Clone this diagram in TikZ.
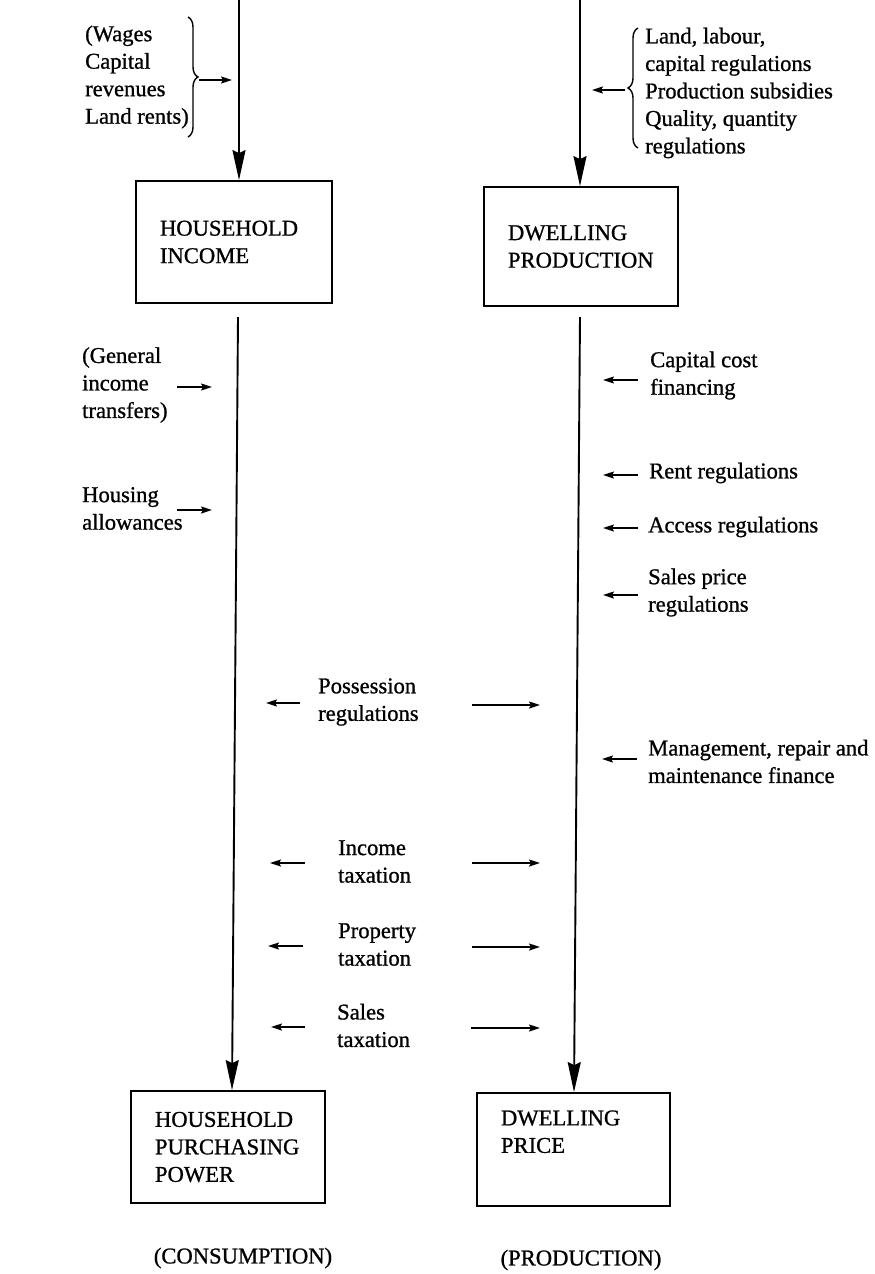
\documentclass[tikz,border=0pt]{standalone}
\usepackage{fontspec}
\setmainfont{Liberation Serif}[FakeBold=0.9]
\usetikzlibrary{arrows.meta,decorations.pathreplacing}
\begin{document}
\begin{tikzpicture}[x=1pt,y=-1pt,
  every node/.style={font=\fontsize{22.6}{27.5}\selectfont, inner sep=0pt},
  lbl/.style={anchor=west, align=left},
  boxnode/.style={draw, line width=1.8pt, inner sep=0pt, align=left},
  bigarrow/.style={line width=1.9pt, -{Stealth[length=30pt,width=13pt,inset=3pt]}},
  smallarrow/.style={line width=1.6pt, -{Stealth[length=11pt,width=7pt,inset=2pt]}},
  bracedec/.style={line width=1.4pt, decorate, decoration={brace, amplitude=10pt}}
]
\fill[white] (0,0) rectangle (875,1274);
\useasboundingbox (0,0) rectangle (875,1274);

% boxes
\node[boxnode, minimum width=196pt, minimum height=122pt, text width=148pt] (inc) at (234,242) {HOUSEHOLD\\INCOME};
\node[boxnode, minimum width=194pt, minimum height=119pt, text width=146pt] (prod) at (581,246.5) {DWELLING\\PRODUCTION};
\node[boxnode, minimum width=194pt, minimum height=112pt, text width=146pt] (pp) at (228,1147) {HOUSEHOLD\\PURCHASING\\POWER};
\node[boxnode, minimum width=193pt, minimum height=113pt, text width=145pt] (price) at (573.5,1149.5) {DWELLING\\PRICE\\\strut};

% main flow lines
\coordinate (inL) at (239,0);
\coordinate (inR) at (580,0);
\draw[bigarrow] (inL) -- (inL |- inc.north);
\draw[bigarrow] (inR) -- (inR |- prod.north);
\coordinate (l1) at (238,317);
\coordinate (l2) at (232,0);
\coordinate (r1) at (580,317);
\coordinate (r2) at (574,0);
\draw[bigarrow] (l1) -- (l2 |- pp.north);
\draw[bigarrow] (r1) -- (r2 |- price.north);

% top-left brace group
\node[lbl] (wages) at (85,77) {(Wages\\Capital\\revenues\\Land rents)};
\coordinate (bl1) at (188,17);
\coordinate (bl2) at (188,137);
\draw[bracedec] (bl1) -- (bl2);
\coordinate (aw1) at (199,80);
\coordinate (aw2) at (232,80);
\draw[smallarrow] (aw1) -- (aw2);

% top-right brace group
\node[lbl] (land) at (645,93) {Land, labour,\\capital regulations\\Production subsidies\\Quality, quantity\\regulations};
\coordinate (br1) at (638,148);
\coordinate (br2) at (638,28);
\draw[bracedec] (br1) -- (br2);
\coordinate (al1) at (625,90);
\coordinate (al2) at (592,90);
\draw[smallarrow] (al1) -- (al2);

% left side inputs
\node[lbl] (gen) at (82,385) {(General\\income\\transfers)};
\coordinate (ag1) at (177,387);
\coordinate (ag2) at (212,387);
\draw[smallarrow] (ag1) -- (ag2);
\node[lbl] (hous) at (82,508.5) {Housing\\allowances};
\coordinate (ah1) at (177,510);
\coordinate (ah2) at (212,510);
\draw[smallarrow] (ah1) -- (ah2);

% right side inputs
\node[lbl] (ccf) at (650,375.5) {Capital cost\\financing};
\coordinate (ac1) at (638,380);
\coordinate (ac2) at (603,380);
\draw[smallarrow] (ac1) -- (ac2);
\node[lbl] (rent) at (649,473) {Rent regulations};
\coordinate (ar1) at (638,475);
\coordinate (ar2) at (603,475);
\draw[smallarrow] (ar1) -- (ar2);
\node[lbl] (acc) at (648,527) {Access regulations};
\coordinate (aa1) at (638,528);
\coordinate (aa2) at (603,528);
\draw[smallarrow] (aa1) -- (aa2);
\node[lbl] (spr) at (648,592.5) {Sales price\\regulations};
\coordinate (as1) at (638,595);
\coordinate (as2) at (603,595);
\draw[smallarrow] (as1) -- (as2);
\node[lbl] (mgmt) at (648,761.5) {Management, repair and\\maintenance finance};
\coordinate (am1) at (637,759);
\coordinate (am2) at (602,759);
\draw[smallarrow] (am1) -- (am2);

% middle two-way items
\node[lbl] (poss) at (318,702) {Possession\\regulations};
\coordinate (pl1) at (300,703);
\coordinate (pl2) at (266,703);
\coordinate (pr1) at (472,705);
\coordinate (pr2) at (540,705);
\draw[smallarrow] (pl1) -- (pl2);
\draw[smallarrow] (pr1) -- (pr2);

\node[lbl] (itax) at (338,861.5) {Income\\taxation};
\coordinate (il1) at (305,863);
\coordinate (il2) at (270,863);
\coordinate (ir1) at (472,863);
\coordinate (ir2) at (540,863);
\draw[smallarrow] (il1) -- (il2);
\draw[smallarrow] (ir1) -- (ir2);

\node[lbl] (ptax) at (338,944.5) {Property\\taxation};
\coordinate (ql1) at (303,946);
\coordinate (ql2) at (268,946);
\coordinate (qr1) at (472,947);
\coordinate (qr2) at (540,947);
\draw[smallarrow] (ql1) -- (ql2);
\draw[smallarrow] (qr1) -- (qr2);

\node[lbl] (stax) at (337,1025.5) {Sales\\taxation};
\coordinate (sl1) at (305,1027);
\coordinate (sl2) at (271,1027);
\coordinate (sr1) at (471,1028);
\coordinate (sr2) at (540,1028);
\draw[smallarrow] (sl1) -- (sl2);
\draw[smallarrow] (sr1) -- (sr2);

% bottom labels
\node (cons) at (243,1258) {(CONSUMPTION)};
\node (prodl) at (581,1260) {(PRODUCTION)};
\end{tikzpicture}
\end{document}
